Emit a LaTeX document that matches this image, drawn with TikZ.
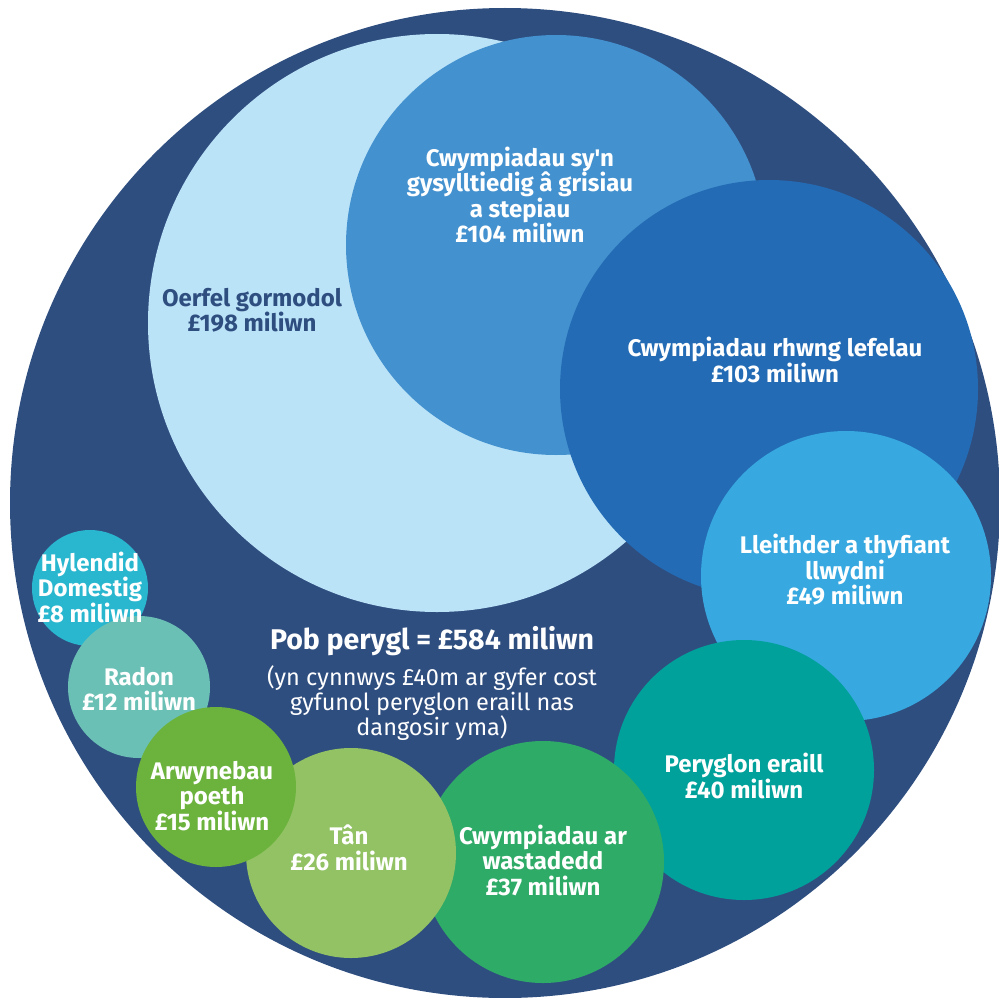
\documentclass[tikz,border=0pt]{standalone}
\usepackage{fontspec}
\setmainfont{Fira Sans}
\usetikzlibrary{positioning}
\definecolor{navy}{HTML}{2F4E80}
\definecolor{oerfel}{HTML}{BBE3F8}
\definecolor{grisiau}{HTML}{4391CF}
\definecolor{lefelau}{HTML}{236CB5}
\definecolor{lleithder}{HTML}{37A9E0}
\definecolor{eraill}{HTML}{00A19B}
\definecolor{gwastad}{HTML}{2FAB68}
\definecolor{tan}{HTML}{92C263}
\definecolor{arwyneb}{HTML}{6CB33E}
\definecolor{radon}{HTML}{6BC0B6}
\definecolor{hylendid}{HTML}{29B7CF}
% one filled disc, no text: name, centre, diameter, colour
\newcommand*{\bubble}[4]{\node[bubble,fill=#4,minimum size=#3pt] (#1) at (#2) {};}
% the text of a disc, set after all discs so that nothing covers it
\newcommand*{\blabel}[3]{\node[blabel] (#1) at (#2) {#3};}
\tikzset{
  bubble/.style={circle,inner sep=0pt,outer sep=0pt,draw=none},
  blabel/.style={text=white,align=center,inner sep=0pt,
    font=\fontsize{24}{25.5}\selectfont\bfseries},
}

\begin{document}
\begin{tikzpicture}[x=1pt,y=-1pt]
\useasboundingbox (0,0) rectangle (998,998);
% The outer disc holds all hazards
\bubble{pob}{505,503}{990}{navy}
% Discs, from the back to the front
\bubble{cold}{437,323}{578}{oerfel}
\bubble{stairs}{556,245}{420}{grisiau}
\bubble{levels}{769,389}{418}{lefelau}
\bubble{damp}{846,576}{290}{lleithder}
\bubble{other}{744,770}{260}{eraill}
\bubble{flat}{543,862}{242}{gwastad}
\bubble{fire}{351,853}{210}{tan}
\bubble{hygiene}{90,588}{116}{hylendid}
\bubble{radonb}{139,687}{142}{radon}
\bubble{hot}{216,787}{160}{arwyneb}
% Now the labels
\node[blabel,text=navy] (coldT) at (252,310) {Oerfel gormodol\\£198 miliwn};
\blabel{stairsT}{520,195}{Cwympiadau sy\textquotesingle n\\gysylltiedig â grisiau\\a stepiau\\£104 miliwn}
\blabel{levelsT}{775,360}{Cwympiadau rhwng lefelau\\£103 miliwn}
\blabel{dampT}{845,570}{Lleithder a thyfiant\\llwydni\\£49 miliwn}
\blabel{otherT}{744,776}{Peryglon eraill\\£40 miliwn}
\blabel{flatT}{543,860}{Cwympiadau ar\\wastadedd\\£37 miliwn}
\blabel{fireT}{349,848}{Tân\\£26 miliwn}
\blabel{hotT}{212,796}{Arwynebau\\poeth\\£15 miliwn}
\blabel{radonT}{139,689}{Radon\\£12 miliwn}
\blabel{hygieneT}{90,587}{Hylendid\\Domestig\\£8 miliwn}
% Total and its note
\node[blabel,font=\fontsize{28.5}{30}\selectfont\bfseries] (total) at (432,641) {Pob perygl = £584 miliwn};
\node[blabel,font=\fontsize{23.5}{25}\selectfont,below=10pt of total] (note)
  {(yn cynnwys £40m ar gyfer cost\\gyfunol peryglon eraill nas\\dangosir yma)};
\end{tikzpicture}
\end{document}
